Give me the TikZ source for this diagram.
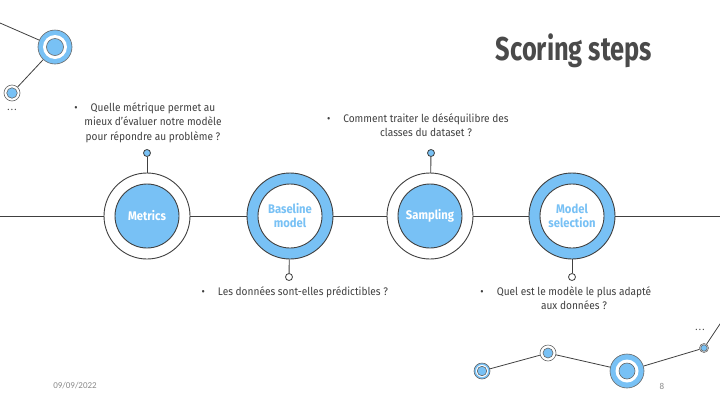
\documentclass[tikz,border=0pt]{standalone}
\usepackage{fontspec}
\setmainfont{Fira Sans}
\newfontfamily\titlefont[FakeStretch=0.77]{Fira Sans}
\newfontfamily\bodyfont[FakeStretch=0.92]{Fira Sans}
\newfontfamily\labfont[FakeStretch=0.9]{Fira Sans}
\newfontfamily\footfont{Carlito}

\definecolor{skyb}{HTML}{78C1F5}
\definecolor{ink}{HTML}{404040}
\definecolor{titlegray}{HTML}{4A4A4A}
\definecolor{footgray}{HTML}{8A8A8A}

\tikzset{
  link/.style={draw=ink, line width=0.9pt},
  stepout/.style={circle, draw=ink, line width=0.9pt, minimum size=86pt, inner sep=0pt},
  stepin/.style={circle, draw=ink, line width=0.9pt, minimum size=64pt, inner sep=0pt,
    align=center, font=\labfont\bfseries\fontsize{12.5}{14}\selectfont},
  pinfull/.style={circle, draw=ink, line width=0.8pt, fill=skyb, minimum size=7pt, inner sep=0pt},
  pinempty/.style={circle, draw=ink, line width=0.8pt, fill=white, minimum size=7pt, inner sep=0pt},
  question/.style={align=center, text=ink, inner sep=0pt,
    font=\bodyfont\fontsize{11}{14.5}\selectfont},
  deco/.style={circle, draw=ink!80, line width=0.6pt, inner sep=0pt},
  decolink/.style={draw=ink, line width=0.8pt},
  dots/.style={text=ink, font=\bodyfont\fontsize{10}{12}\selectfont},
}
\newcommand{\bul}{\llap{\textbullet\hspace{13pt}}}
\newcommand{\threedots}{.\kern1.2pt.\kern1.2pt.}

\begin{document}
\begin{tikzpicture}[x=1pt, y=-1pt]
\useasboundingbox[fill=white] (0,0) rectangle (720,405);

% title
\node[text=titlegray, font=\titlefont\bfseries\fontsize{33}{36}\selectfont, anchor=base]
  (title) at (574,60) {Scoring steps};

% the four steps on the timeline
\node[stepout, fill=white] (metrics) at (147,216) {};
\node[stepin, fill=skyb, text=white] (metricsin) at (metrics) {Metrics};

\node[stepout, fill=skyb] (baseline) at (290,216) {};
\node[stepin, fill=white, text=skyb] (baselinein) at (baseline) {Baseline\\model};

\node[stepout, fill=white] (sampling) at (430,216) {};
\node[stepin, fill=skyb, text=white] (samplingin) at (sampling) {Sampling};

\node[stepout, fill=skyb] (model) at (572,216) {};
\node[stepin, fill=white, text=skyb] (modelin) at (model) {Model\\selection};

\coordinate (lineL) at (0,216);
\coordinate (lineR) at (720,216);
\draw[link] (lineL) -- (metrics) -- (baseline) -- (sampling) -- (model) -- (lineR);

% pins
\node[pinfull] (pinmetrics) at (147,153) {};
\node[pinfull] (pinsampling) at (431,153) {};
\node[pinempty] (pinbaseline) at (289,277) {};
\node[pinempty] (pinmodel) at (572,277) {};
\draw[link] (metrics) -- (pinmetrics);
\draw[link] (sampling) -- (pinsampling);
\draw[link] (baseline) -- (pinbaseline);
\draw[link] (model) -- (pinmodel);

% questions
\node[question, anchor=north] (qmetrics) at (153,102)
  {\bul Quelle métrique permet au\\mieux d’évaluer notre modèle\\pour répondre au problème ?};
\node[question, anchor=north] (qsampling) at (426,113)
  {\bul Comment traiter le déséquilibre des\\classes du dataset ?};
\node[question, anchor=north] (qbaseline) at (303,286)
  {\bul Les données sont-elles prédictibles ?};
\node[question, anchor=north] (qmodel) at (574,286)
  {\bul Quel est le modèle le plus adapté\\aux données ?};

% decoration, top left
\coordinate (tlstart) at (0,23);
\node[deco, fill=skyb, minimum size=34pt] (tlbig) at (55,47) {};
\node[deco, draw=none, fill=white, minimum size=24pt] (tlbigring) at (tlbig) {};
\node[deco, fill=skyb, minimum size=17pt] (tlbigcore) at (tlbig) {};
\node[deco, fill=white, minimum size=16pt] (tlsmall) at (12,93) {};
\node[deco, fill=skyb, minimum size=10.5pt] (tlsmallcore) at (tlsmall) {};
\draw[decolink] (tlstart) -- (tlbig) -- (tlsmall);
\node[dots] (tldots) at (12,110) {\threedots};

% decoration, bottom right
\node[deco, fill=skyb, minimum size=16pt] (bra) at (482,371) {};
\node[deco, draw=none, fill=white, minimum size=12pt] (braring) at (bra) {};
\node[deco, fill=skyb, minimum size=9.5pt] (bracore) at (bra) {};
\node[deco, fill=white, minimum size=16pt] (brb) at (548,353) {};
\node[deco, fill=skyb, minimum size=10pt] (brbcore) at (brb) {};
\node[deco, fill=skyb, minimum size=34pt] (brc) at (627,371) {};
\node[deco, draw=none, fill=white, minimum size=23pt] (brcring) at (brc) {};
\node[deco, fill=skyb, minimum size=16pt] (brccore) at (brc) {};
\node[deco, fill=white, minimum size=9pt] (brd) at (704,348) {};
\node[deco, fill=skyb, minimum size=6.5pt] (brdcore) at (brd) {};
\coordinate (brend) at (728,312);
\draw[decolink] (bra) -- (brb) -- (brc) -- (brd) -- (brend);
\node[dots] (brdots) at (700,330) {\threedots};

% footer
\node[text=footgray, font=\footfont\fontsize{9}{11}\selectfont] (date) at (75,386) {09/09/2022};
\node[text=footgray, font=\footfont\fontsize{9}{11}\selectfont] (page) at (662,386) {8};
\end{tikzpicture}
\end{document}
